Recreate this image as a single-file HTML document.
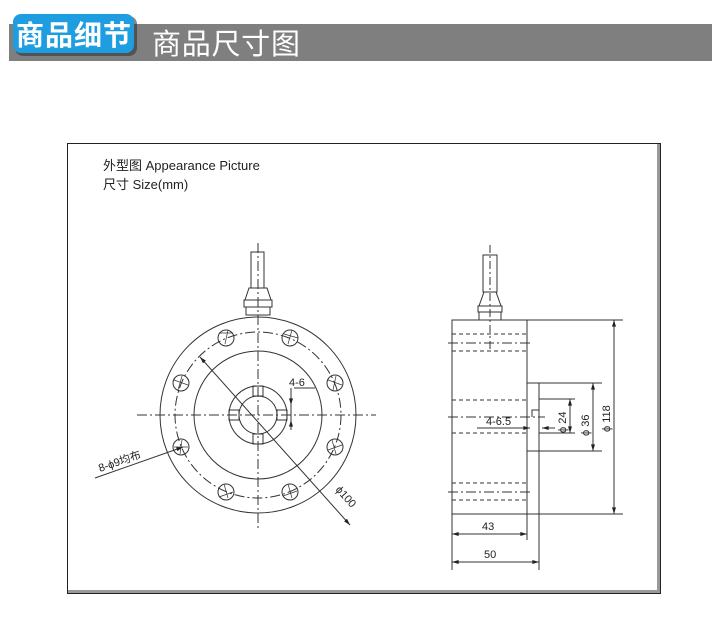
<!DOCTYPE html>
<html><head><meta charset="utf-8"><style>
body{margin:0;width:720px;height:625px;background:#fff;overflow:hidden;font-family:"Liberation Sans","Noto Sans CJK SC",sans-serif}
</style></head><body>
<svg width="720" height="625" viewBox="0 0 720 625" xmlns="http://www.w3.org/2000/svg" style="position:absolute;left:0;top:0">
<defs>
<marker id="a" viewBox="0 0 10 6" refX="10" refY="3" markerWidth="9" markerHeight="4" orient="auto-start-reverse" markerUnits="userSpaceOnUse"><path d="M0,0L10,3L0,6z" fill="#222"/></marker>
</defs>
<rect x="9" y="24" width="703" height="37" fill="#7f7f7f"/>
<rect x="15" y="16" width="122" height="40" rx="8" fill="#333" opacity="0.6"/>
<rect x="13" y="14" width="121" height="39" rx="8" fill="#1e9de0"/>
<text x="16" y="45" font-size="28" font-weight="bold" fill="#fff" font-family="Noto Sans CJK SC,sans-serif" textLength="115">商品细节</text>
<text x="152" y="54" font-size="29" fill="#fff" font-family="Noto Sans CJK SC,sans-serif" textLength="148">商品尺寸图</text>
<rect x="67.5" y="143.5" width="593" height="450" fill="#fff" stroke="#222"/>
<rect x="657" y="144" width="3" height="449" fill="#999"/>
<rect x="68" y="590" width="592" height="3" fill="#999"/>
<text x="103" y="170" font-size="13" fill="#222">外型图 Appearance Picture</text>
<text x="103" y="189" font-size="13" fill="#222">尺寸 Size(mm)</text>
<g stroke="#333" stroke-width="1" fill="none">
<circle cx="258" cy="415" r="98"/>
<circle cx="258" cy="415" r="83" stroke-dasharray="10,3,2,3"/>
<circle cx="258" cy="415" r="64"/>
<circle cx="258" cy="415" r="29"/>
<circle cx="258" cy="415" r="19"/>
<rect x="253" y="386" width="10" height="10"/>
<rect x="253" y="434" width="10" height="10"/>
<rect x="229" y="410" width="10" height="10"/>
<rect x="277" y="410" width="10" height="10"/>
<circle cx="226" cy="338" r="8"/><circle cx="290" cy="338" r="8"/>
<circle cx="335" cy="383" r="8"/><circle cx="335" cy="447" r="8"/>
<circle cx="290" cy="492" r="8"/><circle cx="226" cy="492" r="8"/>
<circle cx="181" cy="447" r="8"/><circle cx="181" cy="383" r="8"/>
<g stroke-width="0.7">
<path d="M219,333l14,0M228,330l-3,14M284,334l14,4M292,330l-4,14M328,380l14,5M336,376l-3,14M328,450l14,-5M332,440l4,14M283,496l14,-5M288,484l4,14M219,497l14,-5M224,484l4,14M174,447l14,0M182,440l-2,14M174,380l14,5M178,390l4,-14"/>
</g>
<line x1="137" y1="415" x2="376" y2="415" stroke-dasharray="10,3,2,3"/>
<line x1="258" y1="243" x2="258" y2="530" stroke-dasharray="10,3,2,3"/>
<rect x="251" y="252" width="13" height="36"/>
<path d="M249,288 L267,288 L271,300 L245,300 Z"/>
<rect x="244" y="300" width="28" height="7"/>
<rect x="246" y="307" width="24" height="8"/>
<line x1="200" y1="357" x2="350" y2="525" marker-start="url(#a)" marker-end="url(#a)"/>
<line x1="294" y1="388" x2="315" y2="388"/>
<line x1="291" y1="388" x2="291" y2="430"/>
<line x1="291" y1="395" x2="291" y2="405" marker-end="url(#a)"/>
<line x1="291" y1="430" x2="291" y2="420" marker-end="url(#a)"/>
<line x1="95" y1="478" x2="183" y2="447" marker-end="url(#a)"/>
<rect x="452" y="320" width="75" height="194"/>
<rect x="527" y="383" width="12" height="68"/>
<rect x="483" y="255" width="14" height="37"/>
<path d="M484,292 L496,292 L501,306 L479,306 Z"/>
<rect x="478" y="306" width="24" height="6"/>
<rect x="479" y="312" width="22" height="8"/>
<line x1="490" y1="245" x2="490" y2="350" stroke-dasharray="8,3,2,3"/>
<g stroke-dasharray="4,3">
<line x1="452" y1="334" x2="527" y2="334"/><line x1="452" y1="351" x2="527" y2="351"/>
<line x1="452" y1="400" x2="527" y2="400"/><line x1="452" y1="433" x2="527" y2="433"/>
<line x1="452" y1="483" x2="527" y2="483"/><line x1="452" y1="500" x2="527" y2="500"/>
</g>
<g stroke-dasharray="10,3,2,3">
<line x1="448" y1="343" x2="530" y2="343"/>
<line x1="448" y1="417" x2="545" y2="417"/>
<line x1="448" y1="492" x2="530" y2="492"/>
</g>
<path d="M532,417 L532,410 L539,410"/>
<line x1="477" y1="428" x2="530" y2="428"/>
<line x1="520" y1="428" x2="530" y2="428" marker-end="url(#a)"/>
<line x1="555" y1="428" x2="542" y2="428" marker-end="url(#a)"/>
<line x1="527" y1="320" x2="623" y2="320"/><line x1="527" y1="514" x2="623" y2="514"/>
<line x1="614" y1="320" x2="614" y2="514" marker-start="url(#a)" marker-end="url(#a)"/>
<line x1="539" y1="383" x2="602" y2="383"/><line x1="539" y1="451" x2="602" y2="451"/>
<line x1="593" y1="383" x2="593" y2="451" marker-start="url(#a)" marker-end="url(#a)"/>
<line x1="539" y1="399" x2="575" y2="399"/><line x1="539" y1="433" x2="575" y2="433"/>
<line x1="570" y1="399" x2="570" y2="433" marker-start="url(#a)" marker-end="url(#a)"/>
<line x1="452" y1="514" x2="452" y2="570"/>
<line x1="527" y1="514" x2="527" y2="540"/>
<line x1="539" y1="451" x2="539" y2="570"/>
<line x1="452" y1="534" x2="527" y2="534" marker-start="url(#a)" marker-end="url(#a)"/>
<line x1="452" y1="562" x2="539" y2="562" marker-start="url(#a)" marker-end="url(#a)"/>
</g>
<g fill="#222" font-size="11">
<text x="289" y="386">4-6</text>
<text x="486" y="425">4-6.5</text>
<text x="482" y="530">43</text>
<text x="484" y="558">50</text>
<text transform="translate(566,433) rotate(-90)">ϕ 24</text>
<text transform="translate(589,436) rotate(-90)">ϕ 36</text>
<text transform="translate(610,432) rotate(-90)">ϕ 118</text>
<text transform="translate(100,472) rotate(-19)">8-ϕ9均布</text>
<text transform="translate(335,490) rotate(48)">ϕ100</text>
</g>
</svg>
</body></html>
